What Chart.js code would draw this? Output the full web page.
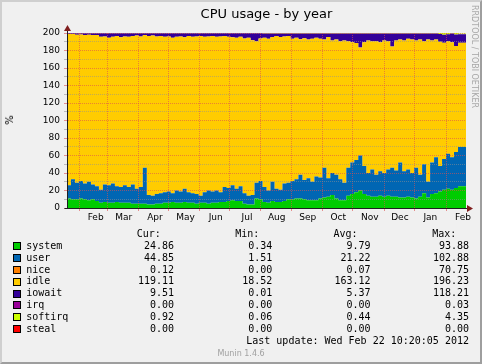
<!DOCTYPE html>
<html>
<head>
<meta charset="utf-8">
<script src="https://cdn.jsdelivr.net/npm/chart.js@4/dist/chart.umd.min.js"></script>
<style>
html,body{margin:0;padding:0;}
body{width:482px;height:364px;position:relative;overflow:hidden;background:#F0F0F0;font-family:'DejaVu Sans',sans-serif;}
#frame{position:absolute;left:0;top:0;width:482px;height:364px;box-sizing:border-box;border-top:2px solid #CFCFCF;border-left:2px solid #CFCFCF;border-right:2px solid #9E9E9E;border-bottom:2px solid #9E9E9E;}
#chart{position:absolute;left:0;top:0;}
#title{position:absolute;left:67px;width:399px;top:6px;text-align:center;font-size:13px;line-height:15px;color:#000;white-space:nowrap;}
#ylab{position:absolute;left:10px;top:120px;font-size:10px;line-height:12px;transform:translate(-50%,-50%) rotate(-90deg);color:#000;}
#wm{position:absolute;left:479px;top:5px;font-size:8px;line-height:10px;color:#A8A8A8;transform-origin:0 0;transform:rotate(90deg);white-space:nowrap;}
#munin{position:absolute;left:0;width:482px;top:349px;text-align:center;font-size:8px;line-height:10px;color:#A0A0A0;}
.t{position:absolute;font-family:'DejaVu Sans Mono',monospace;font-size:10px;line-height:12px;white-space:pre;color:#000;}
.box{position:absolute;width:6px;height:6px;border:1px solid #000;}
</style>
</head>
<body>
<div id="frame"></div>
<canvas id="chart" width="482" height="230"></canvas>
<div id="title">CPU usage - by year</div>
<div id="ylab">%</div>
<div id="wm">RRDTOOL / TOBI OETIKER</div>
<div id="legend"></div>
<div id="munin">Munin 1.4.6</div>
<script>
// ---- data (one value per 4-day period, from left edge of the graph) ----
const periodDays = 4;
const system = [
  10, 11, 10, 10, 11, 10, 9, 10, 8, 6,
  7, 6, 6, 7, 6, 6, 6, 5, 5, 5,
  5, 4, 4, 5, 5, 6, 6, 7, 6, 6,
  7, 6, 6, 5, 6, 6, 5, 6, 6, 7,
  7, 8, 9, 8, 8, 5, 4, 4, 11, 10,
  7, 6, 8, 7, 7, 8, 10, 10, 11, 11,
  10, 9, 9, 9, 11, 12, 13, 15, 11, 9,
  9, 14, 16, 18, 20, 16, 14, 13, 13, 14,
  13, 14, 13, 13, 12, 12, 13, 12, 11, 13,
  17, 12, 16, 17, 19, 21, 22, 21, 23, 24.86
];
const user = [
  20, 15, 23, 19, 20, 18, 21, 17, 17, 15,
  20, 20, 22, 18, 18, 20, 18, 22, 17, 19,
  41, 11, 10, 11, 12, 12, 13, 10, 14, 13,
  15, 12, 11, 11, 8, 12, 15, 13, 14, 11,
  17, 15, 17, 14, 17, 12, 10, 11, 18, 21,
  17, 14, 22, 15, 14, 20, 19, 21, 22, 27,
  22, 25, 21, 27, 24, 34, 21, 25, 27, 24,
  20, 32, 36, 37, 40, 32, 26, 31, 25, 28,
  27, 30, 33, 30, 40, 30, 31, 28, 35, 25,
  33, 18, 36, 41, 29, 35, 40, 37, 41, 44.85
];
const nice = [
  0, 0, 0, 0, 0, 0, 0, 0, 0, 0,
  0, 0, 0, 0, 0, 0, 0, 0, 0, 0,
  0, 0, 0, 0, 0, 0, 0, 0, 0, 0,
  0, 0, 0, 0, 0, 0, 0, 0, 0, 0,
  0, 0, 0, 0, 0, 0, 0, 0, 0, 0,
  0, 0, 0, 0, 0, 0, 0, 0, 0, 0,
  0, 0, 0, 0, 0, 0, 0, 0, 0, 0,
  0, 0, 0, 0, 0, 0, 0, 0, 0, 0,
  0, 0, 0, 0, 0, 0, 0, 0, 0, 0,
  0, 0, 0, 0, 0, 0, 0, 0, 0, 0.12
];
const idle = [
  169.1, 173.0, 165.8, 169.1, 167.4, 169.6, 168.1, 170.6, 172.8, 174.6,
  169.1, 168.6, 167.6, 171.6, 171.1, 170.1, 171.6, 169.6, 175.1, 172.1,
  151.6, 181.6, 183.1, 180.1, 179.6, 177.6, 177.1, 177.6, 175.6, 177.1,
  173.1, 178.6, 178.6, 180.1, 182.6, 177.6, 176.1, 177.6, 175.6, 178.1,
  172.6, 172.6, 169.1, 172.6, 170.6, 176.6, 180.6, 176.6, 161.6, 162.6,
  170.5, 173.5, 165.5, 174.5, 174.5, 168.0, 167.5, 162.5, 161.5, 155.0,
  162.0, 158.5, 163.5, 158.5, 158.5, 146.5, 161.5, 151.5, 154.5, 157.5,
  162.5, 144.5, 137.5, 133.5, 123.5, 141.5, 151.5, 146.5, 152.5, 147.5,
  151.5, 146.5, 138.5, 148.5, 140.5, 149.5, 149.5, 152.5, 145.5, 154.5,
  140.5, 162.5, 139.5, 134.5, 142.0, 133.0, 128.5, 131.4, 121.2, 119.11
];
const iowait = [
  0.5, 0.6, 0.8, 1.5, 1.2, 2, 1.5, 2, 1.8, 4,
  3.5, 5, 4, 3, 4.5, 3.5, 4, 3, 2.5, 3.5,
  2, 3, 2.5, 3.5, 3, 4, 3.5, 5, 4, 3.5,
  4.5, 3, 4, 3.5, 3, 4, 3.5, 3, 4, 3.5,
  3, 4, 4.5, 5, 4, 6, 5, 8, 9, 6,
  5, 6, 4, 3, 4, 3.5, 3, 6, 5, 6.5,
  5.5, 7, 6, 5, 6, 7, 4, 8, 7, 9,
  8, 9, 10, 11, 16, 10, 8, 9, 9, 10,
  8, 9, 15, 8, 7, 8, 6, 7, 8, 7,
  9, 7, 8, 7, 9, 9, 8, 10, 13, 9.51
];
const irq = [
  0, 0, 0, 0, 0, 0, 0, 0, 0, 0,
  0, 0, 0, 0, 0, 0, 0, 0, 0, 0,
  0, 0, 0, 0, 0, 0, 0, 0, 0, 0,
  0, 0, 0, 0, 0, 0, 0, 0, 0, 0,
  0, 0, 0, 0, 0, 0, 0, 0, 0, 0,
  0, 0, 0, 0, 0, 0, 0, 0, 0, 0,
  0, 0, 0, 0, 0, 0, 0, 0, 0, 0,
  0, 0, 0, 0, 0, 0, 0, 0, 0, 0,
  0, 0, 0, 0, 0, 0, 0, 0, 0, 0,
  0, 0, 0, 0, 0, 0, 0, 0, 0, 0
];
const softirq = [
  0.4, 0.4, 0.4, 0.4, 0.4, 0.4, 0.4, 0.4, 0.4, 0.4,
  0.4, 0.4, 0.4, 0.4, 0.4, 0.4, 0.4, 0.4, 0.4, 0.4,
  0.4, 0.4, 0.4, 0.4, 0.4, 0.4, 0.4, 0.4, 0.4, 0.4,
  0.4, 0.4, 0.4, 0.4, 0.4, 0.4, 0.4, 0.4, 0.4, 0.4,
  0.4, 0.4, 0.4, 0.4, 0.4, 0.4, 0.4, 0.4, 0.4, 0.4,
  0.5, 0.5, 0.5, 0.5, 0.5, 0.5, 0.5, 0.5, 0.5, 0.5,
  0.5, 0.5, 0.5, 0.5, 0.5, 0.5, 0.5, 0.5, 0.5, 0.5,
  0.5, 0.5, 0.5, 0.5, 0.5, 0.5, 0.5, 0.5, 0.5, 0.5,
  0.5, 0.5, 0.5, 0.5, 0.5, 0.5, 0.5, 0.5, 0.5, 0.5,
  0.5, 0.5, 0.5, 0.5, 1, 2, 1.5, 0.6, 1.8, 0.92
];
const steal = [
  0, 0, 0, 0, 0, 0, 0, 0, 0, 0,
  0, 0, 0, 0, 0, 0, 0, 0, 0, 0,
  0, 0, 0, 0, 0, 0, 0, 0, 0, 0,
  0, 0, 0, 0, 0, 0, 0, 0, 0, 0,
  0, 0, 0, 0, 0, 0, 0, 0, 0, 0,
  0, 0, 0, 0, 0, 0, 0, 0, 0, 0,
  0, 0, 0, 0, 0, 0, 0, 0, 0, 0,
  0, 0, 0, 0, 0, 0, 0, 0, 0, 0,
  0, 0, 0, 0, 0, 0, 0, 0, 0, 0,
  0, 0, 0, 0, 0, 0, 0, 0, 0, 0
];

const seriesNames  = ['system', 'user', 'nice', 'idle', 'iowait', 'irq', 'softirq', 'steal'];
const seriesColors = ['#00CC00', '#0066B3', '#FF8000', '#FFCC00', '#330099', '#990099', '#CCFF00', '#FF0000'];
const curValues = ['24.86', '44.85', '0.12', '119.11', '9.51', '0.00', '0.92', '0.00'];
const minValues = ['0.34', '1.51', '0.00', '18.52', '0.01', '0.00', '0.06', '0.00'];
const avgValues = ['9.79', '21.22', '0.07', '163.12', '5.37', '0.00', '0.44', '0.00'];
const maxValues = ['93.88', '102.88', '70.75', '196.23', '118.21', '0.03', '4.35', '0.00'];
const columnHeaders = ['Cur:', 'Min:', 'Avg:', 'Max:'];
const lastUpdate = 'Last update: Wed Feb 22 10:20:05 2012';

// x axis: day positions of month starts (grid lines) and of month labels
const monthLabels    = ['Feb', 'Mar', 'Apr', 'May', 'Jun', 'Jul', 'Aug', 'Sep', 'Oct', 'Nov', 'Dec', 'Jan', 'Feb'];
const monthStartDays = [12.3, 40.4, 71.5, 101.6, 132.6, 162.7, 193.8, 225.3, 256.6, 286.7, 317.8, 348.6, 380.0];
const monthLabelDays = [28.7, 56.8, 88.2, 118.8, 149.1, 180.5, 210.2, 241.4, 271.9, 303.6, 333.7, 364.3, 397.0];
const yTickValues = [0, 10, 20, 30, 40, 50, 60, 70, 80, 90, 100, 110, 120, 130, 140, 150, 160, 170, 180, 190, 200];

// ---- chart ----
const MAJOR = 'rgba(222,79,79,0.6)';
const MINOR = 'rgba(143,143,143,0.55)';
const seriesData = [system, user, nice, idle, iowait, irq, softirq, steal];

function toPoints(arr) {
  const p = arr.map((v, i) => ({x: i * periodDays, y: v}));
  p.push({x: arr.length * periodDays, y: arr[arr.length - 1]});
  return p;
}

const datasets = seriesNames.map((name, k) => ({
  label: name,
  data: toPoints(seriesData[k]),
  backgroundColor: seriesColors[k],
  borderColor: 'rgba(0,0,0,0)',
  borderWidth: 0,
  pointRadius: 0,
  stepped: 'after',
  fill: k === 0 ? 'origin' : '-1'
}));

const xTicks = [];
monthStartDays.forEach(d => xTicks.push({value: d, start: true, label: ''}));
monthLabelDays.forEach((d, i) => xTicks.push({value: d, start: false, label: monthLabels[i]}));
xTicks.sort((a, b) => a.value - b.value);

const arrowPlugin = {
  id: 'arrows',
  afterDraw(chart) {
    const ctx = chart.ctx, a = chart.chartArea;
    const xl = Math.round(a.left) + 0.5, yb = Math.round(a.bottom) + 0.5;
    ctx.save();
    ctx.strokeStyle = '#1F1F1F';
    ctx.lineWidth = 1;
    ctx.beginPath();
    ctx.moveTo(xl, a.top); ctx.lineTo(xl, a.top - 3);
    ctx.moveTo(a.right, yb); ctx.lineTo(a.right + 2, yb);
    ctx.moveTo(xl - 3, yb); ctx.lineTo(xl, yb);
    ctx.stroke();
    ctx.fillStyle = '#801F1F';
    ctx.beginPath();
    ctx.moveTo(xl, a.top - 8); ctx.lineTo(xl - 3.5, a.top - 2); ctx.lineTo(xl + 3.5, a.top - 2); ctx.closePath();
    ctx.fill();
    ctx.beginPath();
    ctx.moveTo(a.right + 7, yb); ctx.lineTo(a.right + 1, yb - 3.5); ctx.lineTo(a.right + 1, yb + 3.5); ctx.closePath();
    ctx.fill();
    ctx.restore();
  }
};

new Chart(document.getElementById('chart'), {
  type: 'line',
  data: {datasets},
  plugins: [arrowPlugin],
  options: {
    responsive: false,
    animation: false,
    devicePixelRatio: 1,
    layout: {padding: {left: 0, right: 16, top: 33, bottom: 0}},
    plugins: {legend: {display: false}, tooltip: {enabled: false}, title: {display: false}},
    scales: {
      x: {
        type: 'linear', min: 0, max: 400, z: 1,
        afterBuildTicks: s => { s.ticks = xTicks.map(t => ({value: t.value})); },
        afterFit: s => { s.height = 22; },
        ticks: {
          autoSkip: false, maxRotation: 0, minRotation: 0, padding: 1, color: '#000',
          font: {family: 'DejaVu Sans', size: 9},
          callback: (v, i) => xTicks[i] ? xTicks[i].label : ''
        },
        grid: {
          z: 1, lineWidth: 1, tickLength: 3,
          color: c => (xTicks[c.index] && xTicks[c.index].start) ? MAJOR : 'rgba(0,0,0,0)',
          tickColor: c => (xTicks[c.index] && xTicks[c.index].start) ? MAJOR : 'rgba(0,0,0,0)'
        },
        border: {display: true, z: 2, color: '#1F1F1F', width: 1, dash: [1, 1]}
      },
      y: {
        type: 'linear', min: 0, max: 200, stacked: true, z: 1,
        afterBuildTicks: s => { s.ticks = yTickValues.map(v => ({value: v})); },
        afterFit: s => { s.width = 67; },
        ticks: {
          autoSkip: false, padding: 4, color: '#000',
          font: {family: 'DejaVu Sans', size: 9},
          callback: v => (v % 20 === 0 ? String(v) : '')
        },
        grid: {
          z: 1, lineWidth: 1, tickLength: 3,
          color: c => (c.tick && c.tick.value % 20 === 0) ? MAJOR : MINOR,
          tickColor: c => (c.tick && c.tick.value % 20 === 0) ? MAJOR : MINOR
        },
        border: {display: true, z: 2, color: '#1F1F1F', width: 1, dash: [1, 1]}
      }
    }
  }
});

// ---- legend table (text) ----
const legendEl = document.getElementById('legend');
const valueRight = [174, 272.3, 370.6, 469];
const headerLeft = [136.7, 235.2, 333.5, 432.2];
const firstBaseline = 249.3, pitch = 11.88, headerBaseline = 237.3;
function addText(txt, baseline, left, right) {
  const d = document.createElement('div');
  d.className = 't';
  d.textContent = txt;
  d.style.top = (baseline - 9.46) + 'px';
  if (left !== null) d.style.left = left + 'px';
  else d.style.right = (482 - right) + 'px';
  legendEl.appendChild(d);
}
columnHeaders.forEach((h, c) => addText(h, headerBaseline, headerLeft[c], null));
const cols = [curValues, minValues, avgValues, maxValues];
seriesNames.forEach((name, k) => {
  const b = firstBaseline + pitch * k;
  const box = document.createElement('div');
  box.className = 'box';
  box.style.left = '13px';
  box.style.top = (b - 7.3) + 'px';
  box.style.background = seriesColors[k];
  legendEl.appendChild(box);
  addText(name, b, 26.2, null);
  cols.forEach((col, c) => addText(col[k], b, null, valueRight[c]));
});
addText(lastUpdate, firstBaseline + pitch * 8, null, 469);
</script>
</body>
</html>
